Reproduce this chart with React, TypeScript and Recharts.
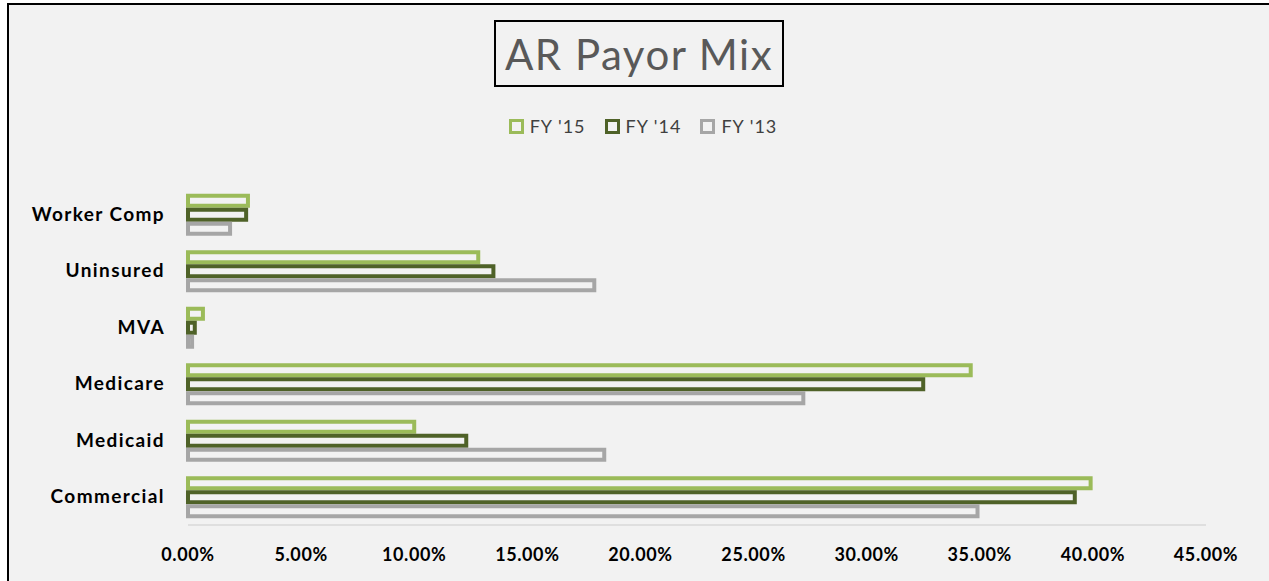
import { BarChart, Bar, XAxis, YAxis } from "recharts";

const categories = ["Worker Comp", "Uninsured", "MVA", "Medicare", "Medicaid", "Commercial"];
const fy15 = [2.65, 12.83, 0.66, 34.6, 10.0, 39.9];
const fy14 = [2.57, 13.5, 0.3, 32.5, 12.3, 39.2];
const fy13 = [1.86, 17.96, 0.18, 27.2, 18.4, 34.9];
const xTicks = [0, 5, 10, 15, 20, 25, 30, 35, 40, 45];

const series = [
  { key: "fy15", name: "FY '15", color: "#9bbb59" },
  { key: "fy14", name: "FY '14", color: "#4f6228" },
  { key: "fy13", name: "FY '13", color: "#a6a6a6" },
];

const data = categories.map((name, i) => ({
  name,
  fy15: fy15[i],
  fy14: fy14[i],
  fy13: fy13[i],
}));

const FONT = "Lato, 'Open Sans', sans-serif";
const BG = "#f2f2f2";

export default function App() {
  return (
    <div
      style={{
        position: "absolute",
        left: 7,
        top: 3,
        width: 1262,
        height: 578,
        boxSizing: "border-box",
        borderTop: "2px solid #000",
        borderLeft: "2px solid #000",
        background: BG,
        fontFamily: FONT,
        overflow: "hidden",
      }}
    >
      <div
        style={{
          position: "absolute",
          left: 485,
          top: 15,
          width: 290,
          height: 67,
          boxSizing: "border-box",
          border: "2px solid #000",
          display: "flex",
          alignItems: "center",
          justifyContent: "center",
          fontSize: 42,
          letterSpacing: 1.5,
          color: "#595959",
        }}
      >
        AR Payor Mix
      </div>

      <div
        style={{
          position: "absolute",
          left: 4,
          top: 110,
          width: 1260,
          display: "flex",
          justifyContent: "center",
          gap: 19,
          fontSize: 18,
          letterSpacing: 1,
          color: "#404040",
        }}
      >
        {series.map((s) => (
          <div key={s.key} style={{ display: "flex", alignItems: "center", gap: 6 }}>
            <span
              style={{
                display: "inline-block",
                width: 15,
                height: 15,
                boxSizing: "border-box",
                border: `3px solid ${s.color}`,
                background: BG,
              }}
            />
            <span>{s.name}</span>
          </div>
        ))}
      </div>

      <BarChart
        width={1260}
        height={576}
        data={data}
        layout="vertical"
        margin={{ top: 181, right: 63, bottom: 16, left: 0 }}
        barCategoryGap="17.2%"
        barGap={4}
        style={{ position: "absolute", left: 0, top: 0 }}
      >
        <XAxis
          type="number"
          domain={[0, 45]}
          ticks={xTicks}
          tickFormatter={(v) => `${Number(v).toFixed(2)}%`}
          axisLine={{ stroke: "#d9d9d9", strokeWidth: 1.5 }}
          tickLine={false}
          tickSize={0}
          tickMargin={23}
          height={40}
          tick={{ fill: "#000", fontSize: 18, fontWeight: 700, fontFamily: FONT, letterSpacing: 0.6 }}
        />
        <YAxis
          type="category"
          dataKey="name"
          width={179}
          axisLine={false}
          tickLine={false}
          tickSize={0}
          tickMargin={23}
          tick={{ fill: "#000", fontSize: 19, fontWeight: 700, fontFamily: FONT, letterSpacing: 1.4 }}
        />
        {series.map((s) => (
          <Bar
            key={s.key}
            dataKey={s.key}
            name={s.name}
            fill={BG}
            stroke={s.color}
            strokeWidth={4}
            isAnimationActive={false}
          />
        ))}
      </BarChart>
    </div>
  );
}
